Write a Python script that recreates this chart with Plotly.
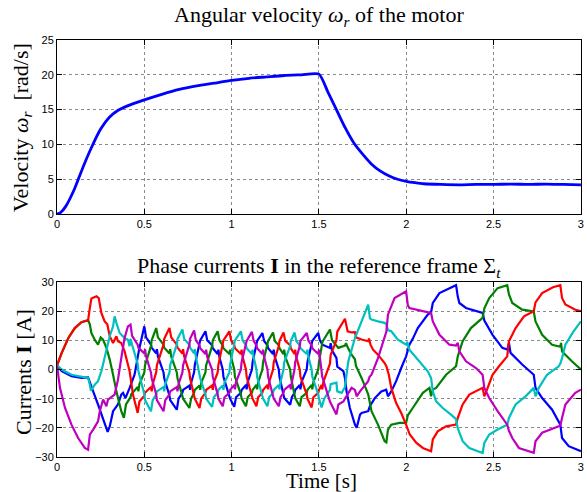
import plotly.graph_objects as go
from plotly.subplots import make_subplots

# ---------------- data ----------------
# top: angular velocity (t [s], omega [rad/s])
vel_t = [0, 0.02, 0.05, 0.1, 0.15, 0.2, 0.25, 0.3, 0.35, 0.4, 0.5, 0.6, 0.7, 0.8, 0.9, 1.0,
         1.1, 1.2, 1.3, 1.4, 1.5, 1.55, 1.6, 1.65, 1.7, 1.75, 1.8, 1.85, 1.9, 1.95, 2.0,
         2.05, 2.1, 2.2, 2.3, 2.4, 2.5, 2.6, 2.7, 2.8, 2.9, 3.0]
vel_w = [0, 0.2, 1.1, 3.6, 6.8, 9.7, 12.2, 13.9, 14.9, 15.5, 16.4, 17.2, 17.9, 18.4, 18.8, 19.2,
         19.5, 19.7, 19.9, 20.0, 20.1, 17.6, 15.0, 12.4, 10.2, 8.6, 7.2, 6.2, 5.5, 5.0, 4.7,
         4.5, 4.35, 4.25, 4.2, 4.25, 4.25, 4.3, 4.25, 4.3, 4.25, 4.2]

# bottom: phase currents, (t [s], I [A]) points
blue_pts = [
    (0, 1.4), (0.027, -0.6), (0.083, -2.3), (0.14, -2.9), (0.178, -2.7), (0.188, -4.6), (0.207, -7.5),
    (0.235, -12), (0.254, -15.5), (0.273, -18.9), (0.29, -21.4), (0.302, -19.5), (0.321, -14.3),
    (0.349, -12), (0.368, -8.6), (0.378, -8), (0.392, -9.8), (0.416, -6.3), (0.444, -1.8), (0.47, 6.8),
    (0.5, 14.8), (0.51, 11), (0.538, 8.5), (0.542, 7.5), (0.568, 5.5), (0.572, 7), (0.578, 4.5), (0.61, -1),
    (0.614, -3), (0.644, -9), (0.648, -10.5), (0.686, -13.8), (0.696, -10), (0.718, -8), (0.722, -7),
    (0.758, -5.5), (0.762, -7), (0.768, -4.5), (0.785, -1), (0.789, 1.5), (0.816, 8), (0.82, 10), (0.85, 13.1),
    (0.86, 10), (0.888, 8.3), (0.892, 7.3), (0.92, 5.3), (0.924, 6.8), (0.93, 4.3), (0.949, 0), (0.953, -2.5),
    (0.987, -8.5), (0.991, -10), (1.015, -12.8), (1.025, -9.5), (1.053, -8), (1.057, -7), (1.082, -5.3),
    (1.086, -6.8), (1.092, -4.3), (1.116, 0), (1.12, 2.5), (1.142, 8), (1.146, 9.8), (1.176, 12.5),
    (1.186, 9.8), (1.205, 8.3), (1.209, 7.3), (1.237, 5.3), (1.241, 6.8), (1.247, 4.3), (1.27, 0),
    (1.274, -2.5), (1.297, -8.3), (1.301, -9.8), (1.335, -12.1), (1.345, -9.5), (1.36, -8), (1.364, -7),
    (1.39, -5.3), (1.394, -6.8), (1.4, -4.3), (1.43, 0), (1.434, 2.5), (1.458, 8), (1.462, 9.8), (1.496, 12.5),
    (1.505, 10), (1.52, 8.5), (1.563, 7.4), (1.567, 9), (1.575, 6.5), (1.6, 4), (1.605, 1), (1.64, -0.6),
    (1.649, -3), (1.658, -7.5), (1.677, -13.2), (1.706, -18.9), (1.716, -20), (1.735, -15.5), (1.744, -14.9),
    (1.782, -14.3), (1.792, -12.5), (1.82, -9.8), (1.857, -7.5), (1.885, -6.9), (1.895, -9.2), (1.914, -7.5),
    (1.942, -4), (1.971, 0.5), (1.999, 4.5), (2.018, 8.5), (2.037, 10.5), (2.066, 14.2), (2.123, 18.8),
    (2.142, 19.6), (2.152, 22.8), (2.19, 26.2), (2.247, 27.9), (2.285, 28.9), (2.295, 25), (2.304, 22.8),
    (2.342, 21.1), (2.418, 19.9), (2.437, 19.4), (2.447, 16.8), (2.494, 11.9), (2.55, 7.4), (2.578, 6.8),
    (2.588, 9.1), (2.597, 5.7), (2.664, 1.7), (2.73, -1.8), (2.74, -6.3), (2.778, -9.8), (2.835, -13.8),
    (2.882, -18.9), (2.892, -23.5), (2.93, -26.3), (3.0, -28)]

green_pts = [
    (0, 1.4), (0.027, 5.7), (0.065, 10.8), (0.102, 14.2), (0.14, 16.2), (0.178, 16.9), (0.188, 15.5),
    (0.197, 12.5), (0.216, 10.2), (0.235, 8.5), (0.25, 11), (0.264, 10.2), (0.283, 7.4), (0.302, 3.4),
    (0.321, -1.8), (0.34, -7.5), (0.368, -14.3), (0.383, -16.6), (0.395, -12), (0.421, -9.5), (0.425, -8.5),
    (0.462, -6), (0.466, -7.5), (0.472, -5), (0.5, -1), (0.504, 1.5), (0.538, 8), (0.542, 10), (0.568, 14.2),
    (0.578, 11), (0.61, 8.5), (0.614, 7.5), (0.644, 5.5), (0.648, 7), (0.654, 4.5), (0.686, -1), (0.69, -3),
    (0.718, -8.5), (0.722, -10), (0.758, -13.2), (0.768, -10), (0.785, -8), (0.789, -7), (0.816, -5.5),
    (0.82, -7), (0.826, -4.5), (0.85, -1), (0.854, 1.5), (0.888, 8), (0.892, 10), (0.92, 13.1),
    (0.93, 10), (0.949, 8.3), (0.953, 7.3), (0.987, 5.3), (0.991, 6.8), (0.997, 4.3), (1.015, 0), (1.019, -2.5),
    (1.053, -8.5), (1.057, -10), (1.082, -12.6), (1.092, -9.5), (1.116, -8), (1.12, -7), (1.142, -5.3),
    (1.146, -6.8), (1.152, -4.3), (1.176, 0), (1.18, 2.5), (1.205, 8), (1.209, 9.8), (1.237, 12.7),
    (1.247, 9.8), (1.27, 8.3), (1.274, 7.3), (1.297, 5.3), (1.301, 6.8), (1.307, 4.3), (1.335, 0),
    (1.339, -2.5), (1.36, -8.3), (1.364, -9.8), (1.39, -12.6), (1.4, -9.5), (1.43, -8), (1.434, -7),
    (1.458, -5.3), (1.462, -6.8), (1.468, -4.3), (1.496, 0), (1.5, 2.5), (1.515, 7), (1.52, 9.5), (1.563, 13.7),
    (1.575, 10), (1.611, 7.4), (1.649, 8.2), (1.655, 9), (1.665, 7.5), (1.687, 5.1), (1.706, 3.5),
    (1.712, 1.2), (1.744, -2.9), (1.782, -8.5), (1.79, -11.5), (1.801, -14.3), (1.838, -18.9), (1.876, -24.6),
    (1.886, -25), (1.895, -20.6), (1.914, -18.9), (1.961, -18.3), (1.999, -18.3), (2.009, -15.7),
    (2.037, -13.2), (2.095, -8), (2.133, -6.3), (2.142, -9.2), (2.152, -6.9), (2.171, -6.3), (2.228, -1.8),
    (2.285, 1.1), (2.295, 4.5), (2.323, 9.7), (2.37, 14.2), (2.437, 17.7), (2.447, 21), (2.475, 24.5),
    (2.523, 27.9), (2.578, 28.9), (2.588, 25.7), (2.607, 22.8), (2.664, 20.5), (2.73, 19.9), (2.74, 16.5),
    (2.778, 11.9), (2.835, 8.5), (2.882, 7.8), (2.886, 9.1), (2.892, 6.2), (2.948, 2.8), (3.0, 0)]

red_pts = [
    (0, 1.4), (0.027, 5.7), (0.065, 10.8), (0.102, 14.2), (0.14, 16.2), (0.178, 16.9), (0.188, 21.1),
    (0.197, 24.3), (0.226, 25.1), (0.239, 24.5), (0.254, 19.4), (0.273, 16.5), (0.288, 15.5), (0.302, 11.4),
    (0.321, 9.1), (0.34, 11.4), (0.349, 9.7), (0.368, 9.1), (0.387, 6.2), (0.416, -0.6), (0.435, -8.6),
    (0.462, -14.9), (0.472, -11), (0.5, -9), (0.504, -8), (0.538, -6), (0.542, -7.5), (0.548, -5),
    (0.568, -1), (0.572, 1.5), (0.61, 8.5), (0.614, 10.5), (0.644, 14.2),
    (0.654, 11), (0.686, 8.5), (0.69, 7.5), (0.718, 5.5), (0.722, 7), (0.728, 4.5), (0.758, -1), (0.762, -3),
    (0.785, -8.5), (0.789, -10), (0.816, -13.2), (0.826, -10), (0.85, -8), (0.854, -7), (0.888, -5.5),
    (0.892, -7), (0.898, -4.5), (0.92, -1), (0.924, 1.5), (0.949, 8), (0.953, 10), (0.987, 13.1),
    (0.997, 10), (1.015, 8.3), (1.019, 7.3), (1.053, 5.3), (1.057, 6.8), (1.063, 4.3), (1.082, 0),
    (1.086, -2.5), (1.116, -8.5), (1.12, -10), (1.142, -12.6), (1.152, -9.5), (1.176, -8), (1.18, -7),
    (1.205, -5.3), (1.209, -6.8), (1.215, -4.3), (1.237, 0), (1.241, 2.5), (1.27, 8), (1.274, 9.8), (1.297, 12.7),
    (1.307, 9.8), (1.335, 8.3), (1.339, 7.3), (1.36, 5.3), (1.364, 6.8), (1.37, 4.3), (1.39, 0), (1.394, -2.5),
    (1.43, -8.5), (1.434, -10), (1.458, -13), (1.468, -9.5), (1.496, -8), (1.5, -7), (1.515, -5.3),
    (1.519, -6.8), (1.525, -4.3), (1.563, 2), (1.567, 5), (1.6, 10), (1.605, 13), (1.649, 17.4),
    (1.664, 13.1), (1.687, 12.7), (1.706, 12.8), (1.712, 11), (1.744, 10.3), (1.782, 9.7), (1.787, 10.6),
    (1.795, 8.5), (1.81, 6.8), (1.838, 5.1), (1.876, 2.2), (1.886, 1.1), (1.9, -1.8), (1.914, -6.3),
    (1.942, -11.5), (1.971, -14.9), (1.999, -18.9), (2.02, -22.3), (2.058, -25.2), (2.095, -26.9),
    (2.142, -28), (2.152, -24), (2.18, -21.2), (2.228, -19.5), (2.285, -18.9), (2.295, -16.6), (2.323, -12),
    (2.361, -8.6), (2.437, -6.3), (2.447, -9.2), (2.466, -6.3), (2.494, -1.8), (2.531, 1.1), (2.578, 4.5),
    (2.588, 9.7), (2.626, 14.2), (2.674, 18.2), (2.73, 20), (2.74, 23), (2.778, 26.2), (2.84, 28.2),
    (2.882, 28.9), (2.892, 24.5), (2.911, 22.3), (2.968, 20.5), (3.0, 20)]

cyan_pts = [
    (0, 1.4), (0.027, 0), (0.083, -1.8), (0.14, -2.6), (0.178, -2.9), (0.188, -5.2), (0.194, -7.3),
    (0.216, -5.2), (0.235, -4), (0.254, -0.6), (0.273, 3.9), (0.302, 11.4), (0.321, 14.8), (0.33, 18.2),
    (0.34, 16), (0.359, 12.5), (0.387, 10.8), (0.406, 10.2), (0.416, 8), (0.421, 10.5), (0.43, 8.5),
    (0.462, 2), (0.466, -0.5), (0.5, -8.5), (0.504, -10.5), (0.538, -14.3), (0.548, -10.5), (0.568, -8.5),
    (0.572, -7.5), (0.61, -6), (0.614, -7.5), (0.62, -5), (0.644, -1), (0.648, 1.5), (0.686, 8.5), (0.69, 10.5),
    (0.718, 13.7),
    (0.728, 10.5), (0.758, 8.5), (0.762, 7.5), (0.785, 5.5), (0.789, 7), (0.795, 4.5), (0.816, -1), (0.82, -3),
    (0.85, -8.5), (0.854, -10), (0.888, -12.8), (0.898, -9.5), (0.92, -8), (0.924, -7), (0.949, -5.5),
    (0.953, -7), (0.959, -4.5), (0.987, -1), (0.991, 1.5), (1.015, 8), (1.019, 10), (1.053, 13.1),
    (1.063, 10), (1.082, 8.3), (1.086, 7.3), (1.116, 5.3), (1.12, 6.8), (1.126, 4.3), (1.142, 0), (1.146, -2.5),
    (1.176, -8.5), (1.18, -10), (1.205, -12.6), (1.215, -9.5), (1.237, -8), (1.241, -7), (1.27, -5.3),
    (1.274, -6.8), (1.28, -4.3), (1.297, 0), (1.301, 2.5), (1.335, 8), (1.339, 9.8), (1.36, 12.7),
    (1.37, 9.8), (1.39, 8.3), (1.394, 7.3), (1.43, 5.3), (1.434, 6.8), (1.44, 4.3), (1.458, 0), (1.462, -2.5),
    (1.496, -8.5), (1.5, -10), (1.515, -13), (1.53, -10), (1.563, -7), (1.567, -5), (1.6, -4.5),
    (1.605, -7.5), (1.63, -8), (1.649, -6), (1.668, 2.8), (1.706, 10.8), (1.744, 16.5), (1.782, 22.2),
    (1.792, 17.5), (1.801, 17.1), (1.838, 16.5), (1.876, 16), (1.886, 15.5), (1.895, 13.5), (1.914, 13.1),
    (1.952, 10.2), (1.999, 8.5), (2.005, 9.5), (2.018, 6.8), (2.066, 3.4), (2.123, -0.6), (2.142, -2.9),
    (2.152, -7.5), (2.171, -10.9), (2.209, -13.2), (2.256, -15.5), (2.285, -17), (2.294, -20), (2.323, -24.6),
    (2.361, -26.9), (2.437, -28.6), (2.447, -25.2), (2.475, -22.3), (2.523, -20.6), (2.578, -18.9),
    (2.588, -16.6), (2.626, -12), (2.683, -9.2), (2.73, -6.3), (2.74, -9.2), (2.759, -6.3), (2.806, -1.8),
    (2.873, 1.1), (2.882, 2), (2.892, 3.9), (2.911, 8.5), (2.958, 13.1), (3.0, 16.5)]

magenta_pts = [
    (0, 1.4), (0.017, -6.3), (0.046, -13.2), (0.083, -18.9), (0.121, -23.5), (0.159, -26.9), (0.178, -27.5),
    (0.188, -22.3), (0.207, -20.6), (0.235, -17.8), (0.245, -14.3), (0.264, -10.3), (0.283, -12.6),
    (0.292, -10.3), (0.33, -8.6), (0.349, -3.5), (0.368, 3.9), (0.387, 10.8), (0.406, 14.8), (0.421, 15.4),
    (0.43, 11.5), (0.462, 8.5), (0.466, 7.5), (0.5, 5.5), (0.504, 7), (0.51, 4.5), (0.538, -1), (0.542, -3),
    (0.568, -8.5), (0.572, -10.5), (0.61, -14.3), (0.62, -10.5), (0.644, -8.5), (0.648, -7.5), (0.686, -6),
    (0.69, -7.5), (0.696, -5), (0.718, -1), (0.722, 1.5), (0.758, 8.5), (0.762, 10.5), (0.785, 13.4),
    (0.795, 10), (0.816, 8.3), (0.82, 7.3), (0.85, 5.3), (0.854, 6.8), (0.86, 4.3), (0.888, 0), (0.892, -2.5),
    (0.92, -8.5), (0.924, -10), (0.949, -12.6), (0.959, -9.5), (0.987, -8), (0.991, -7), (1.015, -5.3),
    (1.019, -6.8), (1.025, -4.3), (1.053, 0), (1.057, 2.5), (1.082, 8), (1.086, 9.8), (1.116, 12.9),
    (1.126, 9.8), (1.142, 8.3), (1.146, 7.3), (1.176, 5.3), (1.18, 6.8), (1.186, 4.3), (1.205, 0), (1.209, -2.5),
    (1.237, -8.5), (1.241, -10), (1.27, -12.6), (1.28, -9.5), (1.297, -8), (1.301, -7), (1.335, -5.3),
    (1.339, -6.8), (1.345, -4.3), (1.36, 0), (1.364, 2.5), (1.39, 8), (1.394, 9.8), (1.43, 12.5),
    (1.44, 9.8), (1.458, 8.3), (1.462, 7.3), (1.496, 5.3), (1.5, 6.8), (1.506, 4.3), (1.515, 0), (1.519, -2.5),
    (1.563, -11), (1.6, -15.4), (1.611, -12), (1.64, -11), (1.649, -10), (1.668, -8), (1.687, -6.3),
    (1.706, -7), (1.716, -9.2), (1.735, -7.5), (1.763, -5.2), (1.782, -4), (1.79, -2.5), (1.801, -1.8),
    (1.838, 3.9), (1.876, 10.8), (1.886, 13), (1.895, 18.8), (1.933, 24.5), (1.999, 26.8), (2.009, 22),
    (2.018, 21.1), (2.066, 20.3), (2.095, 20), (2.142, 19.4), (2.152, 16.5), (2.19, 11.9), (2.247, 8.5),
    (2.285, 8.2), (2.295, 9.1), (2.304, 6.2), (2.342, 2.8), (2.399, 0.5), (2.437, -1.8), (2.447, -6.3),
    (2.475, -9.8), (2.523, -14.3), (2.55, -16.6), (2.578, -18.9), (2.588, -21), (2.607, -23.5),
    (2.645, -26.9), (2.73, -28.6), (2.74, -24.6), (2.778, -21.7), (2.873, -19.5), (2.882, -19.2),
    (2.892, -16.6), (2.911, -12), (2.968, -8), (3.0, -6.9)]

x_ticks = [0, 0.5, 1, 1.5, 2, 2.5, 3]
x_tick_text = ["0", "0.5", "1", "1.5", "2", "2.5", "3"]
vel_ticks = [0, 5, 10, 15, 20, 25]
cur_ticks = [-30, -20, -10, 0, 10, 20, 30]

series = [
    ("blue", blue_pts, "#0000ff"),
    ("green", green_pts, "#008000"),
    ("red", red_pts, "#ff0000"),
    ("cyan", cyan_pts, "#00bfbf"),
    ("magenta", magenta_pts, "#bf00bf"),
]

# ---------------- figure ----------------
fig = make_subplots(rows=2, cols=1)

fig.add_trace(go.Scatter(x=vel_t, y=vel_w, mode="lines", line=dict(color="#0000ff", width=2.8,
                                                                     shape="spline", smoothing=0.6),
                         showlegend=False), row=1, col=1)

for name, pts, col in series:
    fig.add_trace(go.Scatter(x=[p[0] for p in pts], y=[p[1] for p in pts], mode="lines", name=name,
                             line=dict(color=col, width=2.2), showlegend=False), row=2, col=1)

axis_common = dict(showline=True, linecolor="black", linewidth=1, mirror="allticks", ticks="inside",
                   ticklen=5, tickcolor="black", showgrid=True, gridcolor="#8a8a8a", griddash="dot",
                   gridwidth=1, zeroline=False,
                   tickfont=dict(family="Liberation Sans, Arial, sans-serif", size=11, color="black"))

fig.update_xaxes(axis_common, range=[0, 3.0005], tickvals=x_ticks, ticktext=x_tick_text)
fig.update_yaxes(axis_common)
fig.update_yaxes(range=[0, 25], tickvals=vel_ticks, row=1, col=1)
fig.update_yaxes(range=[-30, 30], tickvals=cur_ticks, row=2, col=1)

fig.update_layout(
    width=587, height=492,
    margin=dict(l=57, r=3, t=40, b=35),
    paper_bgcolor="white", plot_bgcolor="white",
    xaxis=dict(domain=[0, 1], anchor="y"),
    yaxis=dict(domain=[0.5827, 1]),
    xaxis2=dict(domain=[0, 1], anchor="y2"),
    yaxis2=dict(domain=[0, 0.4197]),
)

serif = dict(family="Liberation Serif, Times New Roman, serif", size=22, color="black")
serif_x = dict(family="Liberation Serif, Times New Roman, serif", size=21, color="black")
ann = [
    dict(text="Angular velocity <i>ω<sub>r</sub></i> of the motor", x=0.5, y=1.058, xref="paper",
         yref="paper", xanchor="center", yanchor="middle", showarrow=False, font=serif),
    dict(text="Phase currents <b>I</b> in the reference frame Σ<sub><i>t</i></sub>", x=0.5, y=0.455,
         xref="paper", yref="paper", xanchor="center", yanchor="middle", showarrow=False, font=serif),
    dict(text="Velocity <i>ω<sub>r</sub></i>  [rad/s]", x=-0.068, y=0.79, xref="paper", yref="paper",
         xanchor="center", yanchor="middle", textangle=-90, showarrow=False, font=serif),
    dict(text="Currents <b>I</b> [A]", x=-0.064, y=0.205, xref="paper", yref="paper",
         xanchor="center", yanchor="middle", textangle=-90, showarrow=False, font=serif),
    dict(text="Time [s]", x=0.505, y=-0.057, xref="paper", yref="paper",
         xanchor="center", yanchor="middle", showarrow=False, font=serif_x),
]
fig.update_layout(annotations=ann)

fig.write_html("out.html")
